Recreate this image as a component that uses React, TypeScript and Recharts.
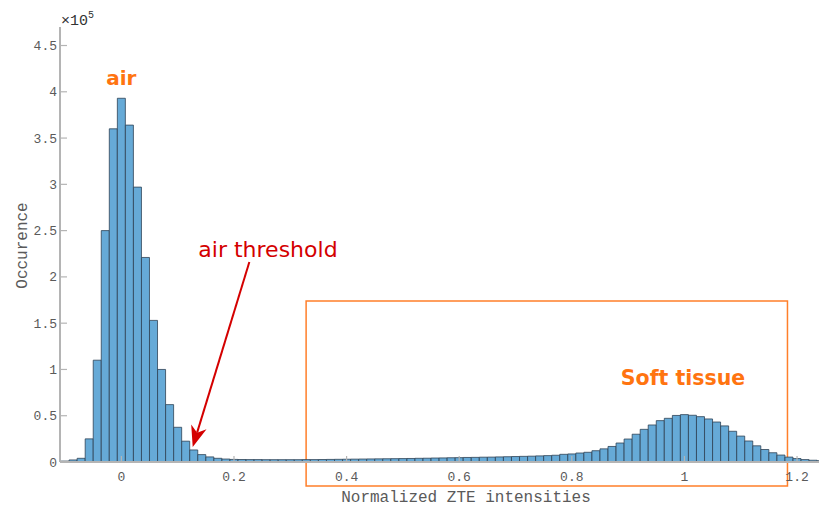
import React from 'react';
import {
  BarChart,
  Bar,
  XAxis,
  YAxis,
  ReferenceArea,
  ReferenceLine,
  ReferenceDot,
} from 'recharts';

// Histogram bins: width 1/70 of the normalized range, first bin centred at -7/70.
const BIN_WIDTH = 1 / 70;
const FIRST_BIN_INDEX = -7;

// Voxel counts per bin (left to right).
const occurrences = [
  1000, 2200, 4000, 25000, 110000, 250000, 360000, 393000, 364000, 297000,
  221000, 153000, 100000, 62000, 37500, 22500, 13000, 8000, 5500, 4000,
  3200, 2800, 2700, 2600, 2600, 2500, 2500, 2500, 2500, 2500,
  2600, 2600, 2700, 2800, 2900, 3000, 3100, 3200, 3300, 3400,
  3500, 3600, 3700, 3800, 4000, 4100, 4300, 4400, 4600, 4700,
  4900, 5000, 5200, 5300, 5500, 5700, 5900, 6100, 6300, 6600,
  6900, 7300, 8300, 8700, 9700, 10500, 12200, 14200, 16800, 20500,
  24800, 30000, 35300, 40000, 44700, 47200, 50300, 51200, 50500, 49000,
  46500, 43200, 39000, 33200, 28000, 22700, 17500, 13500, 10000, 7500,
  5300, 3700, 2600, 1900, 1400,
];

const xTicks = [0, 0.2, 0.4, 0.6, 0.8, 1, 1.2];
const yTicks = [0, 50000, 100000, 150000, 200000, 250000, 300000, 350000, 400000, 450000];

const bins = occurrences.map((count, i) => ({
  center: (FIRST_BIN_INDEX + i) * BIN_WIDTH,
  count,
}));

const AXIS_GRAY = '#b4b4b4';
const TEXT_GRAY = '#5a5a5a';
const MONO = '"Liberation Mono", "DejaVu Sans Mono", monospace';
const SANS = '"DejaVu Sans", Verdana, sans-serif';
const ORANGE = '#ff7410';
const RED = '#d40000';

const YTick = (props: any) => {
  const { x, y, payload } = props;
  return (
    <g>
      <line x1={x + 3} y1={y} x2={x + 10} y2={y} stroke={AXIS_GRAY} strokeWidth={1.2} />
      <text x={x} y={y + 4.5} textAnchor="end" fontFamily={MONO} fontSize={13} fill={TEXT_GRAY}>
        {String(payload.value / 100000)}
      </text>
    </g>
  );
};

const XTick = (props: any) => {
  const { x, y, payload } = props;
  return (
    <g>
      <line x1={x} y1={y} x2={x} y2={y - 6} stroke={AXIS_GRAY} strokeWidth={1.2} />
      <text x={x} y={y + 19} textAnchor="middle" fontFamily={MONO} fontSize={13} fill={TEXT_GRAY}>
        {String(payload.value)}
      </text>
    </g>
  );
};

const YCaption = (props: any) => {
  const { viewBox } = props;
  const cy = viewBox.y + viewBox.height / 2;
  return (
    <g>
      <text
        transform={`translate(27, ${cy + 1}) rotate(-90)`}
        textAnchor="middle"
        fontFamily={MONO}
        fontSize={16}
        fill={TEXT_GRAY}
      >
        Occurence
      </text>
      <text x={viewBox.x + viewBox.width + 1} y={viewBox.y - 2} fontFamily={MONO} fontSize={15} fill="#333">
        ×10
        <tspan dy={-7} fontSize={10}>
          5
        </tspan>
      </text>
    </g>
  );
};

const XCaption = (props: any) => {
  const { viewBox } = props;
  return (
    <text
      x={466}
      y={viewBox.y + 40}
      textAnchor="middle"
      fontFamily={MONO}
      fontSize={16}
      fill={TEXT_GRAY}
    >
      Normalized ZTE intensities
    </text>
  );
};

const makeText =
  (content: string, color: string, size: number, weight: string | number) =>
  (props: any) => (
    <text
      x={props.cx}
      y={props.cy}
      textAnchor="middle"
      fontFamily={SANS}
      fontSize={size}
      fontWeight={weight}
      fill={color}
    >
      {content}
    </text>
  );

const Arrow = (props: any) => {
  const { x1, y1, x2, y2 } = props;
  const dx = x2 - x1;
  const dy = y2 - y1;
  const len = Math.sqrt(dx * dx + dy * dy) || 1;
  const ux = dx / len;
  const uy = dy / len;
  const px = -uy;
  const py = ux;
  const L = 21;
  const W = 8;
  const notch = 6;
  const bx = x2 - L * ux;
  const by = y2 - L * uy;
  const nx = x2 - (L - notch) * ux;
  const ny = y2 - (L - notch) * uy;
  const pts = [
    [x2, y2],
    [bx + W * px, by + W * py],
    [nx, ny],
    [bx - W * px, by - W * py],
  ]
    .map((p) => p.join(','))
    .join(' ');
  return (
    <g>
      <line x1={x1} y1={y1} x2={nx} y2={ny} stroke={RED} strokeWidth={2} />
      <polygon points={pts} fill={RED} />
    </g>
  );
};

export default function App() {
  return (
    <div style={{ position: 'absolute', left: 0, top: 0, width: 819, height: 511, background: '#fff' }}>
      <BarChart
        width={819}
        height={511}
        data={bins}
        margin={{ top: 27, right: 0, bottom: 0, left: 0 }}
        barCategoryGap={0}
        barGap={0}
      >
        <XAxis
          type="number"
          dataKey="center"
          domain={[-0.109, 1.239]}
          allowDataOverflow
          ticks={xTicks}
          height={49}
          tickSize={0}
          tickMargin={0}
          tickLine={false}
          tick={<XTick />}
          axisLine={{ stroke: AXIS_GRAY, strokeWidth: 2 }}
          label={{ content: XCaption } as any}
        />
        <YAxis
          type="number"
          domain={[0, 470000]}
          allowDataOverflow
          ticks={yTicks}
          width={60}
          tickSize={0}
          tickMargin={3}
          tickLine={false}
          tick={<YTick />}
          axisLine={{ stroke: AXIS_GRAY, strokeWidth: 2 }}
          label={{ content: YCaption } as any}
        />
        <Bar
          dataKey="count"
          fill="#66aad7"
          stroke="#2e4356"
          strokeWidth={0.8}
          isAnimationActive={false}
        />
        <ReferenceArea
          x1={0.3281}
          x2={1.183}
          y1={-25900}
          y2={174000}
          ifOverflow="visible"
          fill="none"
          fillOpacity={0}
          stroke="#ff7f2a"
          strokeWidth={1.5}
        />
        <ReferenceLine
          segment={[
            { x: 0.2273, y: 216100 },
            { x: 0.1267, y: 16200 },
          ]}
          ifOverflow="visible"
          shape={Arrow}
        />
        <ReferenceDot x={0} y={407000} r={0} ifOverflow="visible" shape={makeText('air', ORANGE, 20, 'bold')} />
        <ReferenceDot
          x={0.9975}
          y={83000}
          r={0}
          ifOverflow="visible"
          shape={makeText('Soft tissue', ORANGE, 20.5, 'bold')}
        />
        <ReferenceDot
          x={0.2604}
          y={222000}
          r={0}
          ifOverflow="visible"
          shape={makeText('air threshold', RED, 22, 'normal')}
        />
      </BarChart>
    </div>
  );
}
